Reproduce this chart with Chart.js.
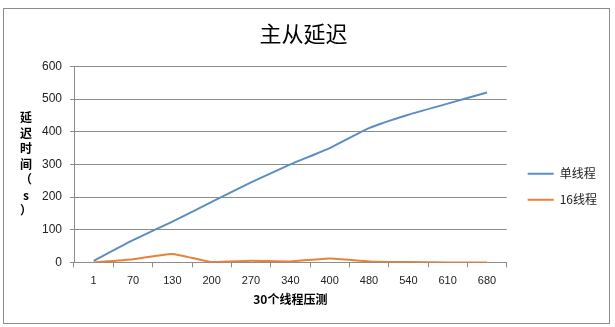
<!DOCTYPE html>
<html>
<head>
<meta charset="utf-8">
<script src="https://cdn.jsdelivr.net/npm/chart.js@4.4.1/dist/chart.umd.min.js"></script>
<style>
  html, body { margin: 0; padding: 0; background: #fff; }
  #wrap { position: relative; width: 615px; height: 327px; }
  #frame { position: absolute; left: 3px; top: 8px; width: 605px; height: 314px; border: 1px solid #8c8c8c; box-sizing: content-box; pointer-events: none; }
  canvas { position: absolute; left: 0; top: 0; }
</style>
</head>
<body>
<div id="wrap">
  <canvas id="c" width="615" height="327"></canvas>
  <div id="frame"></div>
</div>
<script>
const titleText = '主从延迟';
const xTitle = '30个线程压测';
const yTitleChars = ['延', '迟', '时', '间', '（', 's', '）'];
const categories = ['1', '70', '130', '200', '270', '340', '400', '480', '540', '610', '680'];
const singleThread = [5, 68, 125, 185, 245, 300, 350, 411, 452, 486, 520];
const thread16 = [0, 10, 26, 1, 5, 3, 12, 3, 1, 0, 0];
const yTicks = [0, 100, 200, 300, 400, 500, 600];

const numFont = '"Liberation Sans", Arial, sans-serif';
const cjkFont = '"Noto Sans CJK SC", sans-serif';

const yTitlePlugin = {
  id: 'yTitleStack',
  afterDraw(chart) {
    const ctx = chart.ctx;
    const area = chart.chartArea;
    const step = 15.5;
    const cy = (area.top + area.bottom) / 2;
    const startY = cy - step * (yTitleChars.length - 1) / 2;
    ctx.save();
    ctx.fillStyle = '#000';
    ctx.font = 'bold 12px ' + cjkFont;
    ctx.textAlign = 'center';
    ctx.textBaseline = 'middle';
    yTitleChars.forEach((ch, i) => ctx.fillText(ch, 26, startY + i * step));
    ctx.restore();
  }
};

new Chart(document.getElementById('c'), {
  type: 'line',
  data: {
    labels: categories,
    datasets: [
      { label: '单线程', data: singleThread, borderColor: '#5b8ec4', backgroundColor: '#5b8ec4', borderWidth: 2, pointRadius: 0, tension: 0.15 },
      { label: '16线程', data: thread16, borderColor: '#e8813a', backgroundColor: '#e8813a', borderWidth: 2, pointRadius: 0, tension: 0.15 }
    ]
  },
  options: {
    responsive: false,
    animation: false,
    layout: { padding: { left: 0, right: 8, top: 0, bottom: 20 } },
    plugins: {
      title: {
        display: true, text: titleText, color: '#000',
        font: { family: cjkFont, size: 22, weight: 'normal' },
        padding: { top: 20, bottom: 20 }
      },
      legend: {
        position: 'right',
        title: { display: true, text: ' ', font: { size: 12 }, padding: { top: 26, bottom: 26 } },
        labels: {
          usePointStyle: true, pointStyle: 'line', pointStyleWidth: 26, boxWidth: 26, padding: 14,
          color: '#222', font: { family: cjkFont, size: 12 }
        }
      },
      tooltip: { enabled: false }
    },
    scales: {
      x: {
        offset: true,
        grid: { display: true, drawOnChartArea: false, offset: true, tickLength: 5, color: '#8c8c8c' },
        border: { display: true, color: '#8c8c8c' },
        ticks: { color: '#222', font: { family: numFont, size: 11 }, padding: 7, maxRotation: 0 },
        title: { display: true, text: xTitle, color: '#000', font: { family: cjkFont, size: 12, weight: 'bold' }, padding: { top: -2, bottom: 0 } }
      },
      y: {
        min: 0, max: 600,
        afterBuildTicks(scale) { scale.ticks = yTicks.map(v => ({ value: v })); },
        afterFit(scale) { scale.width = 74; },
        grid: { color: '#8c8c8c', tickLength: 4 },
        border: { display: true, color: '#8c8c8c' },
        ticks: { color: '#222', font: { family: numFont, size: 12 }, padding: 8 }
      },
      gap: {
        position: 'right', display: true,
        grid: { display: false, drawTicks: false },
        border: { display: false },
        ticks: { display: false },
        afterFit(scale) { scale.width = 7; }
      }
    }
  },
  plugins: [yTitlePlugin]
});
</script>
</body>
</html>
